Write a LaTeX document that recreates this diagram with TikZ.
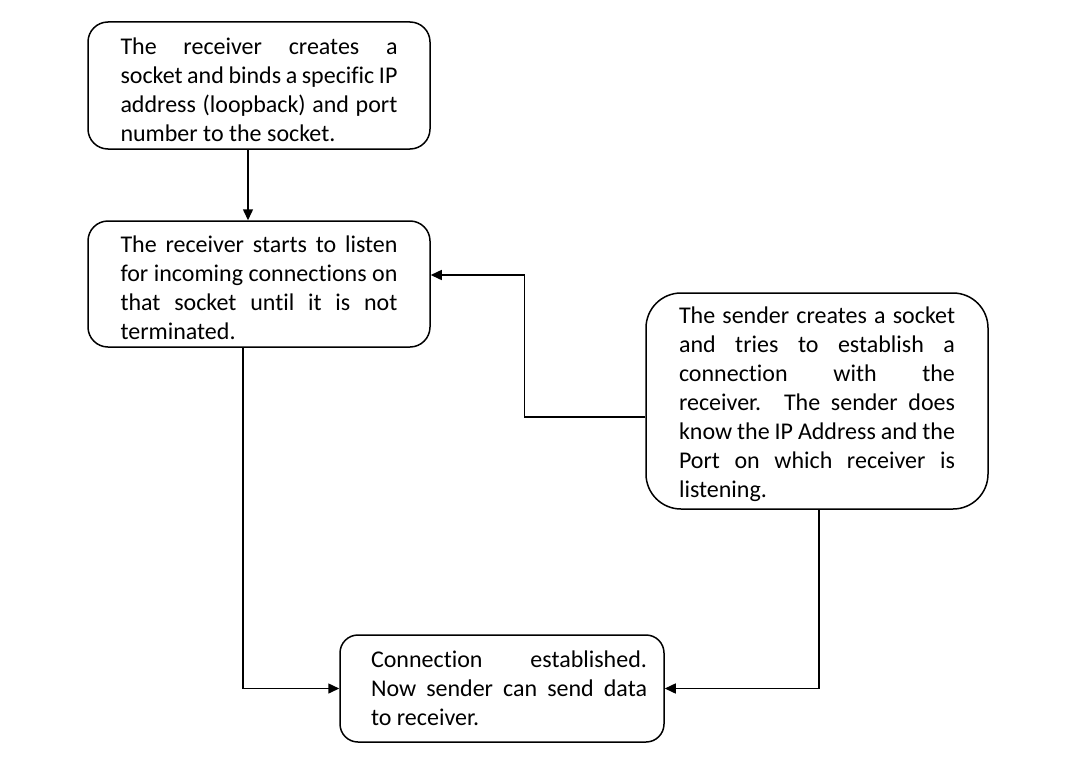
\documentclass[tikz,border=0pt]{standalone}
\usepackage{fontspec}
\setmainfont{Carlito}[RawFeature={-liga}]
\usetikzlibrary{arrows.meta}
\hyphenpenalty=10000
\exhyphenpenalty=10000
\tikzset{
  box/.style={draw, line width=1.5pt, rounded corners=20pt, align=justify,
    font=\fontsize{24}{29}\selectfont, inner ysep=3pt},
  arr/.style={line width=1.5pt, -{Triangle[length=11pt,width=10pt]}},
}
\begin{document}
\begin{tikzpicture}[x=1pt,y=-1pt]
\useasboundingbox[fill=white] (0,0) rectangle (1078,768);
\node[box, text width=277pt, inner xsep=32.5pt, minimum width=342pt, minimum height=127pt] (A) at (259,85.5)
 {The receiver creates a\linebreak socket and binds a specific IP\linebreak address (loopback) and port\linebreak number to the socket.\par\kern-8pt};
\node[box, text width=277pt, inner xsep=32.5pt, minimum width=342pt, minimum height=126pt] (B) at (259,284)
 {The receiver starts to listen\linebreak for incoming connections on\linebreak that socket until it is not\linebreak terminated.\par\kern-8pt};
\node[box, rounded corners=35pt, text width=276pt, inner xsep=33pt, minimum width=342pt, minimum height=216pt] (C) at (817,401)
 {The sender creates a socket\linebreak and tries to establish a\linebreak connection with the\linebreak receiver. The sender does\linebreak know the IP Address and the\linebreak Port on which receiver is\linebreak listening.\par\kern-6pt};
\node[box, rounded corners=18pt, text width=290pt, inner xsep=17pt, minimum width=324pt, minimum height=107pt] (D) at (502,688.5)
 {\leftskip=14pt Connection established.\linebreak Now sender can send data\linebreak to receiver.\par};
\draw[arr] ([xshift=-11pt]A.south) -- ([xshift=-11pt]B.north);
\draw[arr] ([xshift=-16pt]B.south) |- (D.west);
\draw[arr] ([yshift=-16pt]C.west) -- ++(-121,0) |- ([yshift=9pt]B.east);
\draw[arr] ([xshift=2pt]C.south) |- (D.east);
\end{tikzpicture}
\end{document}
